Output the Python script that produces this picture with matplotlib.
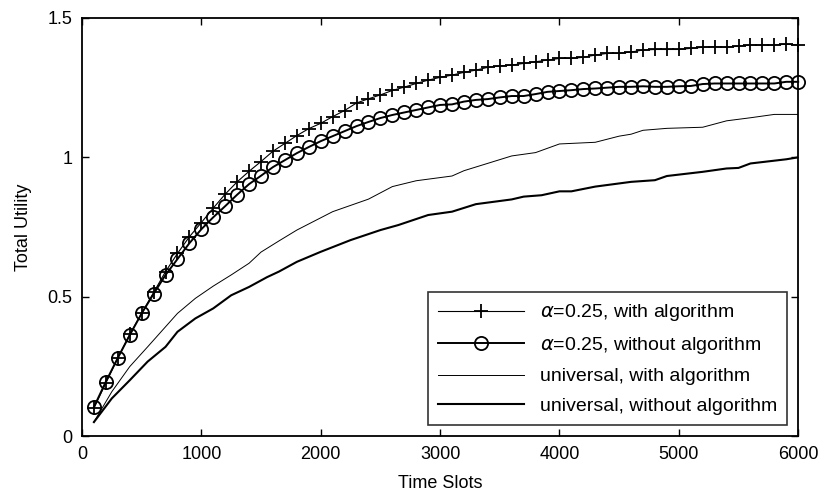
import numpy as np
import matplotlib
matplotlib.use("Agg")
import matplotlib.pyplot as plt

plt.rcParams['font.family'] = ['Liberation Sans', 'DejaVu Sans']
plt.rcParams['mathtext.fontset'] = 'dejavusans'

# time slots for the marker series (every 100)
t = np.arange(100, 6001, 100)

# alpha=0.25, with algorithm (+)
util_a_with = [0.100, 0.190, 0.280, 0.365, 0.440, 0.515, 0.590, 0.655, 0.715, 0.766,
               0.818, 0.868, 0.912, 0.950, 0.985, 1.022, 1.050, 1.078, 1.103, 1.122,
               1.146, 1.168, 1.195, 1.210, 1.224, 1.240, 1.252, 1.265, 1.277, 1.287,
               1.295, 1.305, 1.313, 1.323, 1.328, 1.331, 1.337, 1.343, 1.349, 1.355,
               1.355, 1.359, 1.367, 1.373, 1.373, 1.378, 1.385, 1.387, 1.387, 1.387,
               1.391, 1.395, 1.397, 1.395, 1.399, 1.403, 1.403, 1.403, 1.406, 1.403]

# alpha=0.25, without algorithm (o)
util_a_without = [0.104, 0.195, 0.280, 0.362, 0.440, 0.510, 0.578, 0.635, 0.692, 0.742,
                  0.785, 0.825, 0.866, 0.904, 0.934, 0.965, 0.990, 1.015, 1.037, 1.058,
                  1.076, 1.094, 1.112, 1.127, 1.141, 1.152, 1.161, 1.170, 1.179, 1.188,
                  1.190, 1.200, 1.206, 1.209, 1.215, 1.220, 1.220, 1.227, 1.235, 1.238,
                  1.241, 1.245, 1.247, 1.250, 1.253, 1.253, 1.255, 1.253, 1.253, 1.255,
                  1.256, 1.263, 1.265, 1.265, 1.265, 1.265, 1.265, 1.265, 1.271, 1.271]

# universal, with algorithm (thin line)
t_u_with = [100, 250, 400, 550, 700, 800, 950, 1100, 1250, 1400, 1500, 1650, 1800,
            2100, 2400, 2600, 2800, 3100, 3200, 3600, 3800, 4000, 4300, 4500, 4600,
            4700, 4900, 5200, 5400, 5600, 5800, 6000]
util_u_with = [0.050, 0.159, 0.249, 0.320, 0.392, 0.440, 0.494, 0.538, 0.578, 0.620,
               0.660, 0.700, 0.739, 0.805, 0.850, 0.895, 0.916, 0.933, 0.952, 1.005,
               1.017, 1.048, 1.054, 1.076, 1.083, 1.097, 1.104, 1.108, 1.131, 1.142,
               1.154, 1.154]

# universal, without algorithm (thick line)
t_u_without = [100, 250, 400, 550, 700, 800, 950, 1100, 1250, 1400, 1550, 1650, 1800,
               2000, 2250, 2500, 2650, 2900, 3100, 3300, 3600, 3700, 3850, 4000, 4100,
               4300, 4600, 4800, 4900, 5200, 5400, 5500, 5600, 5900, 6000]
util_u_without = [0.050, 0.135, 0.200, 0.267, 0.320, 0.374, 0.422, 0.458, 0.505, 0.535,
                  0.570, 0.590, 0.625, 0.661, 0.703, 0.739, 0.757, 0.793, 0.805, 0.832,
                  0.849, 0.859, 0.864, 0.878, 0.878, 0.895, 0.912, 0.918, 0.933, 0.948,
                  0.960, 0.962, 0.978, 0.993, 1.000]

labels = [r'$\alpha$=0.25, with algorithm', r'$\alpha$=0.25, without algorithm',
          'universal, with algorithm', 'universal, without algorithm']

fig = plt.figure(figsize=(8.28, 4.97), dpi=100)
ax = fig.add_axes([0.099, 0.1227, 0.865, 0.8411])

ax.plot(t, util_a_with, color='black', lw=0.8, marker='+', ms=10, mew=1.3,
        clip_on=False, label=labels[0])
ax.plot(t, util_a_without, color='black', lw=1.4, marker='o', ms=9.5, mew=1.3,
        mfc='none', clip_on=False, label=labels[1])
ax.plot(t_u_with, util_u_with, color='black', lw=0.7, label=labels[2])
ax.plot(t_u_without, util_u_without, color='black', lw=1.5, label=labels[3])

ax.set_xlim(0, 6000)
ax.set_ylim(0, 1.5)
ax.set_xticks([0, 1000, 2000, 3000, 4000, 5000, 6000])
ax.set_yticks([0, 0.5, 1, 1.5])
ax.set_yticklabels(['0', '0.5', '1', '1.5'])
ax.tick_params(direction='in', top=True, right=True, length=5, width=1,
               labelsize=13, pad=7)
for s in ax.spines.values():
    s.set_linewidth(1.3)

ax.set_xlabel('Time Slots', fontsize=13, labelpad=9)
ax.set_ylabel('Total Utility', fontsize=13, labelpad=11)

leg = ax.legend(loc='lower right', fontsize=14, frameon=True, fancybox=False,
                edgecolor='black', handlelength=4.4, labelspacing=0.6,
                borderaxespad=0.55, handletextpad=0.8, borderpad=0.55)
leg.get_frame().set_linewidth(1.2)

fig.savefig('out.png', dpi=100)
